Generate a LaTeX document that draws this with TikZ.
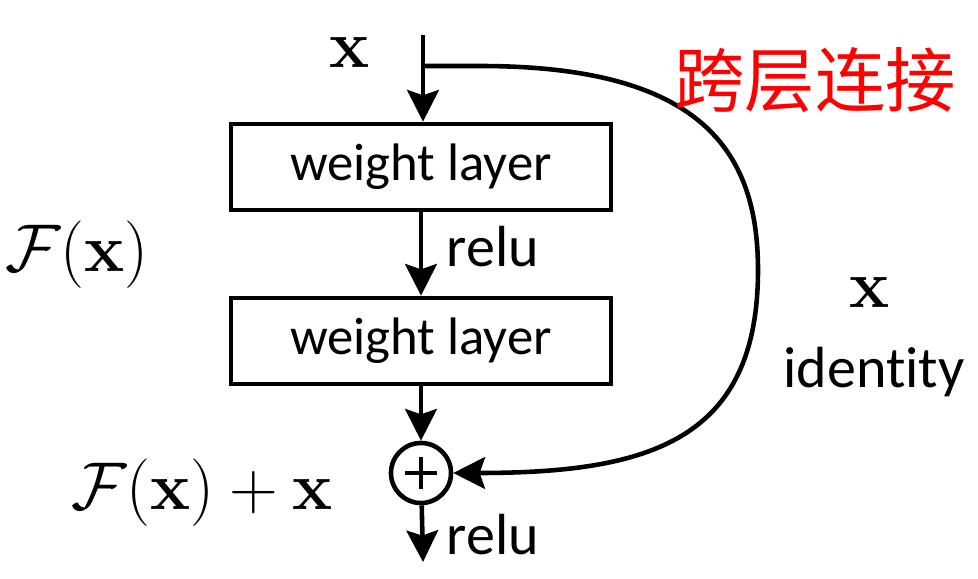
\RequirePackage{fix-cm}
\documentclass[tikz,border=0pt]{standalone}
\usepackage[no-math]{fontspec}
\setmainfont{Carlito}[Ligatures=NoCommon]
\newfontfamily\cjk{Noto Sans CJK SC}
\usetikzlibrary{arrows.meta}
\tikzset{
  layer/.style={draw,line width=1.3pt,minimum width=3.8cm,minimum height=0.86cm,inner sep=0pt,font=\fontsize{15}{18}\selectfont},
  sumnode/.style={draw,circle,line width=1.3pt,minimum size=0.6cm,inner sep=0pt},
  lbl/.style={font=\fontsize{16.5}{19}\selectfont,inner sep=0pt},
  mlbl/.style={font=\fontsize{19.2}{22}\selectfont,inner sep=0pt},
  flow/.style={line width=1.3pt,-{Stealth[length=9pt,width=9pt,inset=1.5pt]}}
}
\begin{document}
\begin{tikzpicture}[x=0.01cm,y=-0.01cm]
\useasboundingbox (0,0) rectangle (978,579);
\coordinate (in) at (423,35);
\coordinate (split) at (423,66);
\coordinate (out) at (423,562);
\node[layer] (wl1) at (421,167) {weight layer};
\node[layer] (wl2) at (421,341) {weight layer};
\node[sumnode] (sum) at (421,473) {};
\draw[line width=1.3pt] (sum.center) ++(-16,0) -- ++(32,0) (sum.center) ++(0,-16) -- ++(0,32);
\draw[flow] (in) -- (in |- wl1.north);
\draw[flow] (wl1) -- (wl2);
\draw[flow] (wl2) -- (sum);
\draw[flow] (sum) -- (out);
% identity shortcut
\draw[flow] (split) -- (480,66) .. controls (700,66) and (758,150) .. (758,270)
  .. controls (758,440) and (650,473) .. (sum.east);
\node[mlbl] (xin) at (350,52) {$\mathbf{x}$};
\node[mlbl] (fx) at (77,255) {$\mathcal{F}(\mathbf{x})$};
\node[mlbl] (fxx) at (202,493) {$\mathcal{F}(\mathbf{x})+\mathbf{x}$};
\node[mlbl] (xid) at (870,292) {$\mathbf{x}$};
\node[lbl] (relu1) at (493,247) {relu};
\node[lbl] (relu2) at (493,535) {relu};
\node[lbl] (ident) at (874,372) {identity};
\node[inner sep=0pt,text=red,font=\cjk\fontsize{20}{24}\selectfont] (skip) at (815,80) {跨层连接};
\end{tikzpicture}
\end{document}
